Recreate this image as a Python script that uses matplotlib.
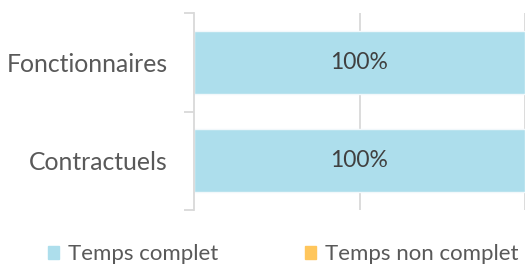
import matplotlib
matplotlib.use("Agg")
import matplotlib.pyplot as plt
from matplotlib.patches import Patch

categories = ["Contractuels", "Fonctionnaires"]
temps_complet = [1.0, 1.0]
temps_non_complet = [0.0, 0.0]
series_names = ["Temps complet", "Temps non complet"]

BLUE = "#ADDEEC"
ORANGE = "#FFC65C"
TEXT = "#595959"
GRID = "#D9D9D9"

plt.rcParams["font.family"] = ["Lato", "DejaVu Sans"]

fig = plt.figure(figsize=(5.26, 2.71), dpi=100)
ax = fig.add_axes([0.369, 0.225, 0.629, 0.727])

y = list(range(len(categories)))
ax.barh(y, temps_complet, height=0.64, color=BLUE, edgecolor="#F2F8FB", linewidth=1)
ax.barh(y, temps_non_complet, left=temps_complet, height=0.64, color=ORANGE,
        edgecolor="none")

for yi, v in zip(y, temps_complet):
    ax.text(v / 2, yi, f"{v:.0%}", ha="center", va="center", fontsize=16.5,
            color="#404040")

ax.set_xlim(0, 1.0)
ax.set_ylim(-0.5, len(categories) - 0.5)
ax.set_xticks([0.5, 1.0])
ax.tick_params(axis="x", length=0, labelbottom=False)
ax.xaxis.grid(True, color=GRID, linewidth=1.3)
ax.set_axisbelow(True)

ax.set_yticks(y)
ax.set_yticklabels(categories, fontsize=17.8, color=TEXT)
ax.tick_params(axis="y", which="major", length=0, pad=19)
ax.set_yticks([-0.5, 0.5, 1.5], minor=True)
ax.tick_params(axis="y", which="minor", length=7, width=1.3, color=GRID)

for s in ["top", "right", "bottom"]:
    ax.spines[s].set_visible(False)
ax.spines["left"].set_color(GRID)
ax.spines["left"].set_linewidth(1.3)

handles = [Patch(color=BLUE), Patch(color=ORANGE)]
fig.legend(handles, series_names, loc="center", bbox_to_anchor=(0.538, 0.062),
           ncol=2, frameon=False, fontsize=16, labelcolor=TEXT,
           handlelength=0.5, handleheight=0.5, handletextpad=0.4,
           columnspacing=3.9)

fig.savefig("out.png", dpi=100, facecolor="white")
